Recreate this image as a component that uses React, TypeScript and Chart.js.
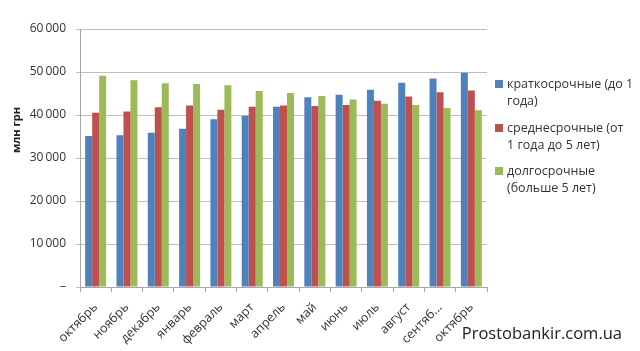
import React, { useEffect, useRef } from "react";
import { Chart, registerables } from "chart.js";

Chart.register(...registerables);

const categories = [
  "октябрь", "ноябрь", "декабрь", "январь", "февраль", "март", "апрель",
  "май", "июнь", "июль", "август", "сентяб...", "октябрь",
];
const shortTerm = [35100, 35300, 35900, 36800, 39000, 39800, 41900, 44100, 44700, 45900, 47500, 48500, 49800];
const mediumTerm = [40500, 40800, 41800, 42200, 41200, 41900, 42200, 42100, 42300, 43300, 44300, 45300, 45700];
const longTerm = [49100, 48100, 47400, 47200, 46900, 45600, 45100, 44400, 43600, 42600, 42300, 41600, 41100];
const seriesLabels = ["краткосрочные (до 1 года)", "среднесрочные (от 1 года до 5 лет)", "долгосрочные (больше 5 лет)"];
const legendLines = [
  ["краткосрочные (до 1", "года)"],
  ["среднесрочные (от", "1 года до 5 лет)"],
  ["долгосрочные", "(больше 5 лет)"],
];
const seriesColors = ["#4F81BD", "#C0504D", "#9BBB59"];
const yAxisTitle = "млн грн";
const watermark = "Prostobankir.com.ua";

const FONT = "'Open Sans', sans-serif";

export default function App() {
  const ref = useRef<HTMLCanvasElement>(null);
  useEffect(() => {
    document.body.style.margin = "0";
    const extras = {
      id: "extras",
      afterDraw(chart: any) {
        const ctx = chart.ctx;
        ctx.save();
        ctx.fillStyle = "#222";
        ctx.font = `bold 11px ${FONT}`;
        ctx.textAlign = "center";
        ctx.textBaseline = "middle";
        ctx.translate(17, 130);
        ctx.rotate(-Math.PI / 2);
        ctx.fillText(yAxisTitle, 0, 0);
        ctx.restore();
        ctx.save();
        const starts = [84, 128, 171];
        chart.data.datasets.forEach((ds: any, i: number) => {
          const y0 = starts[i];
          ctx.fillStyle = ds.backgroundColor;
          ctx.fillRect(495, y0 - 4, 8, 8);
          ctx.fillStyle = "#333";
          ctx.font = `12.5px ${FONT}`;
          ctx.textAlign = "left";
          ctx.textBaseline = "middle";
          legendLines[i].forEach((line, j) => {
            ctx.fillText(line, 507, y0 + j * 17);
          });
        });
        ctx.fillStyle = "#222";
        ctx.font = `16.5px ${FONT}`;
        ctx.textAlign = "right";
        ctx.textBaseline = "middle";
        ctx.fillText(watermark, 622, 334);
        ctx.restore();
      },
    };
    const chart = new Chart(ref.current!, {
      type: "bar",
      data: {
        labels: categories,
        datasets: [shortTerm, mediumTerm, longTerm].map((d, i) => ({
          label: seriesLabels[i],
          data: d,
          backgroundColor: seriesColors[i],
          barPercentage: 1,
          categoryPercentage: 0.67,
        })),
      },
      options: {
        animation: false,
        responsive: false,
        maintainAspectRatio: false,
        layout: { padding: { top: 29, right: 153, left: 0, bottom: 0 } },
        plugins: { legend: { display: false }, tooltip: { enabled: false } },
        scales: {
          x: {
            offset: true,
            grid: { offset: true, drawOnChartArea: false, drawTicks: true, tickLength: 5, color: "#A6A6A6" },
            border: { color: "#A6A6A6" },
            ticks: {
              autoSkip: false,
              maxRotation: 45,
              minRotation: 45,
              color: "#333",
              font: { family: FONT, size: 12.5 },
              padding: 8,
            },
            afterFit: (s: any) => { s.height = 64; },
          },
          y: {
            min: 0,
            max: 60000,
            grid: { color: "#BFBFBF", tickLength: 4 },
            border: { color: "#A6A6A6" },
            ticks: {
              stepSize: 10000,
              color: "#333",
              font: { family: FONT, size: 12 },
              padding: 10,
              callback: (v: any) => (v === 0 ? "–" : Number(v).toLocaleString("ru-RU").replace(/\s/g, "\u2009")),
            },
            afterFit: (s: any) => { s.width = 80; },
          },
        },
      },
      plugins: [extras],
    });
    return () => chart.destroy();
  }, []);
  return (
    <div style={{ width: 640, height: 351, background: "#fff" }}>
      <canvas ref={ref} width={640} height={351} style={{ display: "block" }} />
    </div>
  );
}
